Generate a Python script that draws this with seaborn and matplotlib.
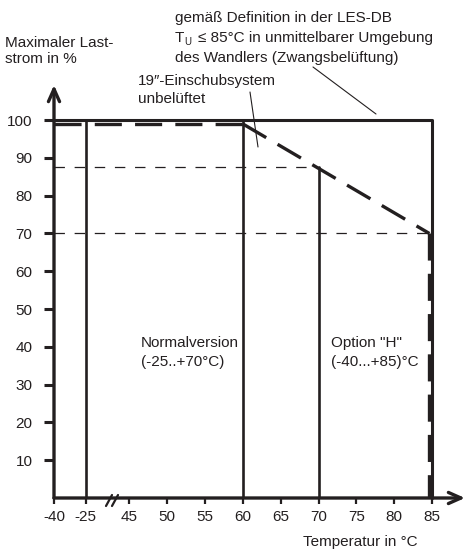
import numpy as np
import pandas as pd
import matplotlib
matplotlib.use("Agg")
import matplotlib.pyplot as plt
from matplotlib.lines import Line2D
import seaborn as sns

# derating curves: temperature in °C, max. load current in %
les_db_temp = [-40, 85, 85]
les_db_load = [100, 100, 0]
# 19"-Einschubsystem, drawn as three dashed pieces
einschub_temp = [-40, 60, 60, 84.65, 84.65, 84.65]
einschub_load = [99, 99, 99, 70, 70, 0]
einschub_seg = [1, 1, 2, 2, 3, 3]

# vertical limits of the versions
version_temp = [-25, 60, 70]
version_load = [100, 100, 87.5]

# thin guide lines
guide_load = [87.5, 70]
guide_end = [70, 85]

x_ticks = [-40, -25, 45, 50, 55, 60, 65, 70, 75, 80, 85]
y_ticks = [10, 20, 30, 40, 50, 60, 70, 80, 90, 100]

ink = "#231f20"
W, H = 467, 550

sns.set_theme(style="white")
plt.rcParams["font.family"] = ["Liberation Sans", "DejaVu Sans"]
plt.rcParams["lines.scale_dashes"] = False

# broken temperature axis (-40..-25, gap, 45..85)
knots_t = [-1000, -40, -25, 45, 1000]
knots_p = [-960 / 15 * 0.84, 0, 0.84, 1.99, 1.99 + 955 / 5]


def fwd(t):
    return np.interp(t, knots_t, knots_p)


def inv(p):
    return np.interp(p, knots_p, knots_t)


fig = plt.figure(figsize=(W / 100, H / 100), dpi=100)
ax = fig.add_axes([54 / W, 1 - 498 / H, (465 - 54) / W, (498 - 85) / H])
ax.set_xscale("function", functions=(fwd, inv))

df_les = pd.DataFrame({"temp": les_db_temp, "load": les_db_load})
df_ein = pd.DataFrame({"temp": einschub_temp, "load": einschub_load,
                       "seg": einschub_seg})

sns.lineplot(data=df_les, x="temp", y="load", sort=False, estimator=None,
             ax=ax, color=ink, lw=2.2, clip_on=False)
sns.lineplot(data=df_ein, x="temp", y="load", units="seg", sort=False,
             estimator=None, ax=ax, color=ink, lw=2.4,
             linestyle=(0, (19.5, 9.5)), clip_on=False)

for t, top in zip(version_temp, version_load):
    sns.lineplot(x=[t, t], y=[0, top], ax=ax, color=ink, lw=1.9, estimator=None)

for lv, end in zip(guide_load, guide_end):
    sns.lineplot(x=[-40, end], y=[lv, lv], ax=ax, color=ink, lw=0.9,
                 estimator=None, linestyle=(0, (7.5, 7)))

ax.set_xlim(-40, 89.35)
ax.set_ylim(0, 109.3)
ax.set_xticks(x_ticks)
ax.set_xticklabels([str(v) for v in x_ticks])
ax.set_yticks(y_ticks)
ax.set_yticklabels([str(v) for v in y_ticks])
ax.minorticks_off()
ax.tick_params(axis="y", left=True, length=7.5, width=2.2, pad=8,
               direction="out", color=ink, labelcolor=ink, labelsize=11)
ax.tick_params(axis="x", bottom=True, length=4.5, width=1.6, pad=4,
               direction="out", color=ink, labelcolor=ink, labelsize=11)
ax.set_xlabel("")
ax.set_ylabel("")
for s in ax.spines.values():
    s.set_visible(False)
ax.patch.set_alpha(0)

# axis arrows
arrow = dict(arrowstyle="->,head_length=0.45,head_width=0.2", lw=2.4,
             color=ink, shrinkA=0, shrinkB=0, mutation_scale=20)
ax.annotate("", xy=(1, 0), xytext=(0, 0), xycoords="axes fraction",
            textcoords="axes fraction", arrowprops=arrow)
ax.annotate("", xy=(0, 1), xytext=(0, 0), xycoords="axes fraction",
            textcoords="axes fraction", arrowprops=arrow)


def px_text(x, y, s, size=11):
    fig.text(x / W, 1 - y / H, s, fontsize=size, color=ink, va="baseline")


def px_line(x1, y1, x2, y2, lw):
    fig.add_artist(Line2D([x1 / W, x2 / W], [1 - y1 / H, 1 - y2 / H],
                          transform=fig.transFigure, color=ink, lw=lw))


px_text(5, 47, "Maximaler Last-")
px_text(5, 63, "strom in %")
px_text(175, 22, "gemäß Definition in der LES-DB")
px_text(175, 42, "T")
px_text(184, 45, "U", size=7)
px_text(198, 42, "≤ 85°C in unmittelbarer Umgebung")
px_text(175, 62, "des Wandlers (Zwangsbelüftung)")
px_text(138, 85, "19″-Einschubsystem")
px_text(138, 103, "unbelüftet")
px_text(141, 347, "Normalversion")
px_text(141, 366, "(-25..+70°C)")
px_text(331, 347, 'Option "H"')
px_text(331, 366, "(-40...+85)°C")
px_text(303, 546, "Temperatur in °C")

# leader lines
px_line(313, 67, 376, 114, 0.8)
px_line(250, 92, 258, 147, 0.8)

# axis break marks
px_line(106, 506, 112, 495, 1.6)
px_line(112, 506, 118, 495, 1.6)

fig.savefig("out.png", dpi=100)
